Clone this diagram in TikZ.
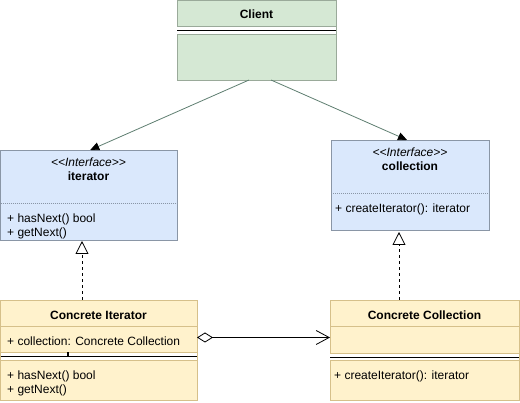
\documentclass[tikz,border=0pt]{standalone}
\usepackage{fontspec}
\setmainfont{Liberation Sans}
\usetikzlibrary{arrows.meta,calc}
\definecolor{gfill}{HTML}{D5E8D4}
\definecolor{gline}{HTML}{9AAA9A}
\definecolor{bfill}{HTML}{DAE8FC}
\definecolor{bline}{HTML}{8A96A6}
\definecolor{yfill}{HTML}{FFF2CC}
\definecolor{yline}{HTML}{D6C08A}
\definecolor{aline}{HTML}{5E7E70}
\begin{document}
\begin{tikzpicture}[x=1pt,y=-1pt,
  box/.style={rectangle,inner sep=0pt,outer sep=0pt,anchor=north west,line width=0.8pt},
  gbox/.style={box,fill=gfill,draw=gline},
  bbox/.style={box,fill=bfill,draw=bline},
  ybox/.style={box,fill=yfill,draw=yline},
  txt/.style={inner sep=0pt,font=\fontsize{12}{14}\selectfont,text height=9pt,text depth=3pt},
  ltxt/.style={txt,anchor=west},
  btxt/.style={txt,font=\fontsize{12}{14}\selectfont\bfseries},
  itxt/.style={txt,font=\fontsize{12}{14}\selectfont\itshape},
  assoc/.style={draw=aline,line width=0.8pt,-{Triangle[length=9pt,width=8pt,black]}},
  realize/.style={draw=black,line width=0.8pt,dash pattern=on 3pt off 3pt,-{Triangle[open,length=13pt,width=13pt,fill=white]}},
  aggr/.style={draw=black,line width=0.8pt,{Diamond[open,length=16pt,width=10pt,fill=white]}-{Straight Barb[length=13pt,width=14pt]}}
]
\useasboundingbox (0,0) rectangle (520,403);

% Client
\node[gbox,minimum width=159pt,minimum height=79.5pt] (client) at (177,0.5) {};
\fill[white] (177.4,26) rectangle (335.6,34);
\draw[gline,line width=0.6pt] (177,26) -- (336,26) (177,34) -- (336,34);
\draw[black,line width=0.9pt] (177,30) -- (336,30);
\node[btxt] (clientT) at (256.5,16) {Client};

% iterator interface
\node[bbox,minimum width=176.5pt,minimum height=90pt] (iter) at (0.5,150) {};
\draw[bline,line width=0.6pt,dash pattern=on 1pt off 1pt] (0.5,203) -- (177,203);
\node[itxt] (iterS) at (88.5,164) {<{}<Interface>{}>};
\node[btxt] (iterT) at (88.5,178) {iterator};
\node[ltxt] (iterM1) at (7,219.5) {+ hasNext() bool};
\node[ltxt] (iterM2) at (7,233.5) {+ getNext()};

% collection interface
\node[bbox,minimum width=158pt,minimum height=90pt] (coll) at (331,140) {};
\draw[bline,line width=0.6pt,dash pattern=on 1pt off 1pt] (331,193) -- (489,193);
\node[itxt] (collS) at (410,154) {<{}<Interface>{}>};
\node[btxt] (collT) at (410,168) {collection};
\node[ltxt] (collM1) at (335,209.5) {+ createIterator(): iterator};

% Concrete Iterator
\node[ybox,minimum width=196.5pt,minimum height=100pt] (ci) at (0.5,300) {};
\draw[yline,line width=0.6pt] (0.5,326) -- (197,326);
\fill[white] (0.9,352) rectangle (196.6,360);
\draw[yline,line width=0.6pt] (0.5,352) -- (197,352) (0.5,360) -- (197,360);
\draw[black,line width=0.9pt] (0.5,356) -- (197,356);
\draw[black,line width=1.2pt] (68,352.5) -- (68,356);
\node[btxt] (ciT) at (98.5,316.5) {Concrete Iterator};
\node[ltxt] (ciA) at (7,342.5) {+ collection: Concrete Collection};
\node[ltxt] (ciM1) at (7,376.5) {+ hasNext() bool};
\node[ltxt] (ciM2) at (7,390.5) {+ getNext()};

% Concrete Collection
\node[ybox,minimum width=189pt,minimum height=100pt] (cc) at (330,300) {};
\draw[yline,line width=0.6pt] (330,326) -- (519,326);
\fill[white] (330.4,353) rectangle (518.6,360);
\draw[yline,line width=0.6pt] (330,353) -- (519,353) (330,360) -- (519,360);
\draw[black,line width=0.9pt] (330,357) -- (519,357);
\node[btxt] (ccT) at (424.5,316.5) {Concrete Collection};
\node[ltxt] (ccM1) at (334,376.5) {+ createIterator(): iterator};

% connectors
\draw[assoc] ($(client.south)+(-7.5,0)$) -- ($(iter.north)+(1.5,0)$);
\draw[assoc] ($(client.south)+(14.5,0)$) -- ($(coll.north)+(-3,0)$);
\draw[realize] ($(ci.north west)+(81.5,0)$) -- ($(iter.south west)+(81.5,1)$);
\draw[realize] ($(cc.north west)+(69,0)$) -- ($(coll.south west)+(68,2)$);
\draw[aggr] ($(ci.north east)+(0,37.5)$) -- ($(cc.north west)+(0,37.5)$);
\end{tikzpicture}
\end{document}
